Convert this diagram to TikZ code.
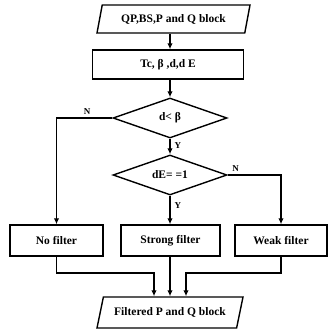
\documentclass[tikz,border=0pt]{standalone}
\usepackage{fontspec}
\setmainfont{Liberation Serif}
\usetikzlibrary{shapes.geometric,arrows.meta}
\begin{document}
\begin{tikzpicture}[x=1pt,y=-1pt,
  line width=1.4pt,
  every node/.style={font=\bfseries\fontsize{11.5}{13}\selectfont},
  para/.style={draw,trapezium,trapezium stretches body,trapezium left angle=#1,trapezium right angle=180-#1,inner sep=0pt},
  box/.style={draw,rectangle,inner sep=0pt},
  dec/.style={draw,diamond,inner sep=0pt,minimum width=114pt,minimum height=40pt,shape aspect=2.85},
  lbl/.style={font=\bfseries\fontsize{9}{10}\selectfont,inner sep=0pt},
  arr/.style={-{Latex[length=6pt,width=5.5pt]}}]
\useasboundingbox (0,0) rectangle (330,331);
\node[para=62,minimum width=153pt,minimum height=28pt] (in) at (173.5,19) {QP,BS,P and Q block};
\node[box,minimum width=151pt,minimum height=29pt] (calc) at (168,64.5) {Tc, β ,d,d E};
\node[dec] (d1) at (170,118) {d< β};
\node[dec] (d2) at (170,175) {dE= =1};
\node[box,minimum width=93pt,minimum height=31pt] (nof) at (56.5,240.5) {No filter};
\node[box,minimum width=99pt,minimum height=31pt] (strong) at (170.5,240.5) {Strong filter};
\node[box,minimum width=92pt,minimum height=31pt] (weak) at (281,240.5) {Weak filter};
\node[para=57,minimum width=146pt,minimum height=31pt] (out) at (170,312.5) {Filtered P and Q block};
\coordinate (mL) at (154,273);
\coordinate (mR) at (186,273);
\draw[arr] (d1 |- in.south) -- (d1 |- calc.north);
\draw[arr] (d1 |- calc.south) -- (d1.north);
\draw[arr] (d1.south) -- (d2.north) node[lbl,pos=0.45,right=4pt] {Y};
\draw[arr] (d2.south) -- (d2 |- strong.north) node[lbl,pos=0.35,right=4pt] {Y};
\draw[arr] (d1.west) -- (d1.west -| nof) node[lbl,pos=0.45,above=3pt] {N} -- (nof.north);
\draw[arr] (d2.east) -- (d2.east -| weak) node[lbl,pos=0.15,above=3pt] {N} -- (weak.north);
\draw[arr] (nof.south) -- (nof |- mL) -- (mL) -- (mL |- out.north);
\draw[arr] (strong.south -| d1) -- (d1 |- out.north);
\draw[arr] (weak.south) -- (weak |- mR) -- (mR) -- (mR |- out.north);
\end{tikzpicture}
\end{document}
